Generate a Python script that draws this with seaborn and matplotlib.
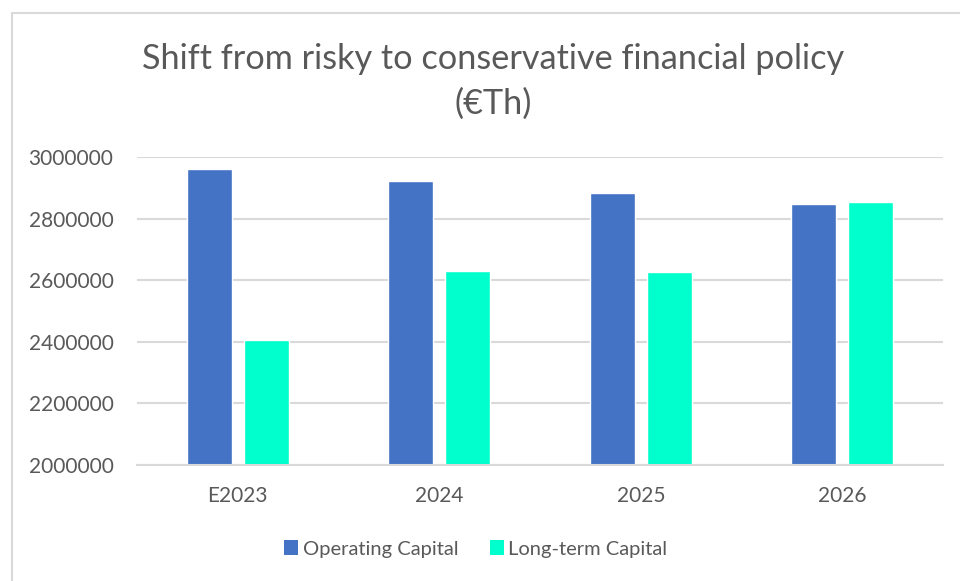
import matplotlib
matplotlib.use("Agg")
import matplotlib.pyplot as plt
from matplotlib.lines import Line2D
from matplotlib.patches import Patch
import seaborn as sns
import pandas as pd

categories = ["E2023", "2024", "2025", "2026"]
operating_capital = [2960000, 2922000, 2883000, 2847000]
long_term_capital = [2405000, 2630000, 2626000, 2853000]
series_names = ["Operating Capital", "Long-term Capital"]
y_ticks = [2000000, 2200000, 2400000, 2600000, 2800000, 3000000]

colors = ["#4472C4", "#00FFCC"]
text_color = "#595959"
grid_color = "#D9D9D9"

df = pd.DataFrame({
    "Year": categories * 2,
    "Value": operating_capital + long_term_capital,
    "Series": [series_names[0]] * 4 + [series_names[1]] * 4,
})

sns.set_theme(style="white")
plt.rcParams["font.family"] = ["Lato", "DejaVu Sans"]

W, H = 960, 581
fig = plt.figure(figsize=(W / 100, H / 100), dpi=100)
ax = fig.add_axes([137 / W, 1 - 465 / H, (943 - 137) / W, (465 - 157) / H])

sns.barplot(data=df, x="Year", y="Value", hue="Series", order=categories,
            hue_order=series_names, palette=colors, width=0.566, gap=0.21,
            saturation=1, ax=ax, legend=False)

ax.set_ylim(y_ticks[0], y_ticks[-1])
ax.set_yticks(y_ticks)
ax.set_yticklabels([str(t) for t in y_ticks])
ax.set_xlim(-0.5, len(categories) - 0.5)
ax.yaxis.grid(True, color=grid_color, linewidth=1.5)
ax.set_axisbelow(True)
for s in ["top", "right", "left"]:
    ax.spines[s].set_visible(False)
ax.spines["bottom"].set_color(grid_color)
ax.spines["bottom"].set_linewidth(1.5)
ax.set_xlabel("")
ax.set_ylabel("")
ax.tick_params(axis="y", length=0, pad=17, labelsize=15, labelcolor=text_color)
ax.tick_params(axis="x", length=0, pad=15, labelsize=15, labelcolor=text_color)

title_x = 493 / W
fig.text(title_x, 1 - 59 / H, "Shift from risky to conservative financial policy",
         ha="center", va="center", fontsize=24.7, color=text_color)
fig.text(title_x, 1 - 104 / H, "(€Th)", ha="center", va="center",
         fontsize=24.7, color=text_color)

handles = [Patch(facecolor=c, edgecolor="none") for c in colors]
fig.legend(handles, series_names, loc="center", bbox_to_anchor=(476 / W, 1 - 549 / H),
           ncol=2, frameon=False, fontsize=14.5, labelcolor=text_color,
           handlelength=0.7, handleheight=0.7, handletextpad=0.2, columnspacing=1.6)

# chart area border
fig.add_artist(Line2D([11.5 / W, 11.5 / W], [0, 1 - 12.5 / H], transform=fig.transFigure,
                      color=grid_color, linewidth=1.5))
fig.add_artist(Line2D([11.5 / W, 1], [1 - 12.5 / H, 1 - 12.5 / H], transform=fig.transFigure,
                      color=grid_color, linewidth=1.5))

fig.savefig("out.png", dpi=100, facecolor="white")
